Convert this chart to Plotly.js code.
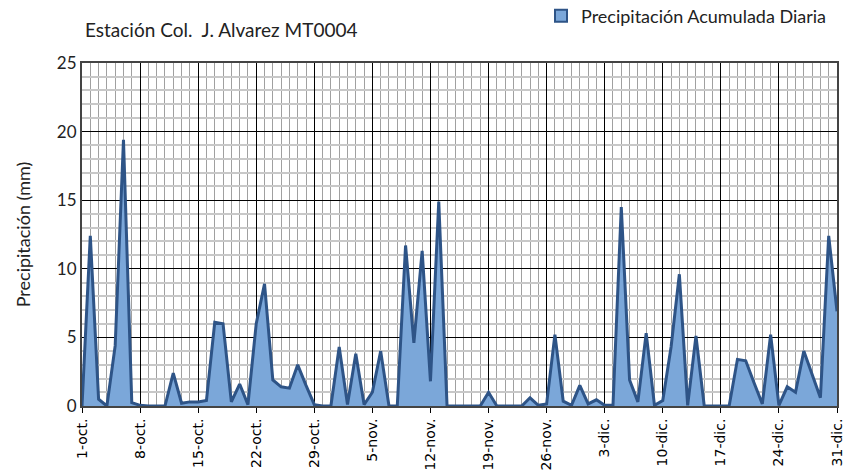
<!DOCTYPE html>
<html>
<head>
<meta charset="utf-8">
<script src="https://cdn.plot.ly/plotly-3.0.1.min.js"></script>
<style>
  html, body { margin: 0; padding: 0; background: #fff; }
  #graph { width: 846px; height: 470px; }
</style>
</head>
<body>
<div id="graph"></div>
<script>
// precipitacion diaria (mm), 1-oct a 31-dic
var precip = [
    0, 12.4, 0.5, 0, 4.4, 19.4, 0.25, 0.05, 0, 0,
    0, 2.4, 0.2, 0.3, 0.3, 0.4, 6.1, 6.0, 0.3, 1.6,
    0.1, 6.0, 8.9, 1.9, 1.4, 1.3, 3.0, 1.5, 0.1, 0,
    0, 4.3, 0.1, 3.8, 0.1, 1.0, 4.0, 0, 0, 11.7,
    4.6, 11.3, 1.8, 14.9, 0, 0, 0, 0, 0, 1.0,
    0, 0, 0, 0, 0.6, 0.05, 0.15, 5.2, 0.35, 0.05,
    1.5, 0.15, 0.45, 0.05, 0.05, 14.5, 1.9, 0.3, 5.3, 0.05,
    0.4, 4.3, 9.6, 0.05, 5.1, 0, 0, 0, 0, 3.4,
    3.3, 1.7, 0.15, 5.2, 0.05, 1.4, 1.0, 4.0, 2.3, 0.6,
    12.4, 6.9
];
var tickLabels = ['1-oct.', '8-oct.', '15-oct.', '22-oct.', '29-oct.', '5-nov.', '12-nov.',
    '19-nov.', '26-nov.', '3-dic.', '10-dic.', '17-dic.', '24-dic.', '31-dic.'];
var seriesName = 'Precipitación Acumulada Diaria';

var days = [];
for (var i = 0; i < precip.length; i++) days.push(i);
var tickVals = [];
for (var k = 0; k < tickLabels.length; k++) tickVals.push(k * 7);

var area = {
    x: days,
    y: precip,
    type: 'scatter',
    mode: 'lines',
    fill: 'tozeroy',
    fillcolor: '#7ba7d9',
    line: { color: '#2e5487', width: 3 },
    showlegend: false,
    hoverinfo: 'x+y'
};
// only for the legend swatch
var legendItem = {
    x: [null],
    y: [null],
    type: 'bar',
    name: seriesName,
    marker: { color: '#7ba7d9', line: { color: '#2e5487', width: 2 } }
};

var layout = {
    width: 846,
    height: 470,
    margin: { l: 82, r: 9, t: 63, b: 64, autoexpand: false },
    paper_bgcolor: '#fff',
    plot_bgcolor: '#fff',
    title: {
        text: 'Estación Col.  J. Alvarez MT0004',
        font: { family: 'Lato, sans-serif', size: 19, color: '#222' },
        x: 85 / 846, xanchor: 'left',
        y: 1 - 30 / 470, yanchor: 'middle'
    },
    showlegend: true,
    legend: {
        x: 1 - 14 / 846, xref: 'container', xanchor: 'right',
        y: 1 - 16 / 470, yref: 'container', yanchor: 'middle',
        font: { family: 'Lato, sans-serif', size: 18, color: '#222' },
        itemwidth: 30,
        bgcolor: 'rgba(0,0,0,0)'
    },
    xaxis: {
        range: [0, 91],
        tickmode: 'array',
        tickvals: tickVals,
        ticktext: tickLabels,
        tickangle: -90,
        tickfont: { family: 'DejaVu Sans, sans-serif', size: 14, color: '#000' },
        ticks: 'outside',
        ticklen: 5,
        tickcolor: '#000',
        showgrid: true,
        gridcolor: '#000',
        gridwidth: 1,
        minor: { tickmode: 'linear', tick0: 0, dtick: 1, showgrid: true, gridcolor: '#a0a0a0', gridwidth: 1 },
        showline: true,
        linecolor: '#444',
        linewidth: 2,
        mirror: true,
        zeroline: false,
        fixedrange: true
    },
    yaxis: {
        range: [0, 25],
        dtick: 5,
        tick0: 0,
        tickfont: { family: 'Lato, sans-serif', size: 17, color: '#222' },
        ticks: '',
        showgrid: true,
        gridcolor: '#000',
        gridwidth: 1,
        minor: { tickmode: 'linear', tick0: 0, dtick: 1, showgrid: true, gridcolor: '#c8c8c8', gridwidth: 2 },
        showline: true,
        linecolor: '#444',
        linewidth: 2,
        mirror: true,
        zeroline: false,
        title: {
            text: 'Precipitación (mm)',
            font: { family: 'Lato, sans-serif', size: 18, color: '#222' },
            standoff: 22
        },
        fixedrange: true
    }
};

Plotly.newPlot('graph', [area, legendItem], layout, { displayModeBar: false, staticPlot: true });
</script>
</body>
</html>
